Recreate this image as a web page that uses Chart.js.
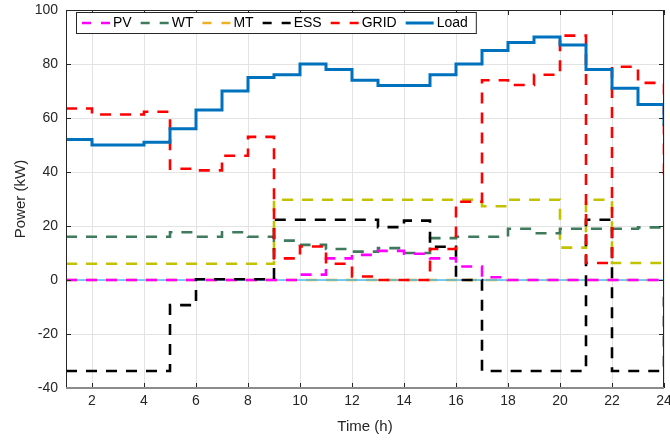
<!DOCTYPE html>
<html>
<head>
<meta charset="utf-8">
<script src="https://cdn.jsdelivr.net/npm/chart.js@4.4.1/dist/chart.umd.min.js"></script>
<style>
  html, body { margin: 0; padding: 0; background: #fff; }
  #wrap { width: 670px; height: 443px; }
</style>
</head>
<body>
<div id="wrap"><canvas id="myChart" width="670" height="443"></canvas></div>
<script>
// hourly values (stairs)
const hours = [1,2,3,4,5,6,7,8,9,10,11,12,13,14,15,16,17,18,19,20,21,22,23,24];
const pv   = [0,0,0,0,0,0,0,0,0,2,8,9.3,10.8,9.7,8,5,1,0,0,0,0,0,0,0];
const wt   = [16,16,16,16,17.7,16,17.7,16,14.6,13,11.5,10.5,11.8,10,15.5,16,16,19,17.3,19,19,19,19.5,19.5];
const mt   = [0,0,0,0,0,0,0,0,0,0,0,0,0,0,0,0,0,0,0,0,0,0,0,0];
const ess  = [-33.7,-33.7,-33.7,-33.7,-9.3,0.3,0.3,0.3,22.3,22.3,22.3,22.3,19.6,22,12.3,0,-33.7,-33.7,-33.7,-33.7,22.3,-33.7,-33.7,-6.2];
const grid = [63.5,61.3,61.3,62.3,41.2,40.6,46,53,8,12.4,6,1.3,0,0,11.5,29,74,72.2,76,90.5,6.3,79,73,36];
const load = [52,50,50,51,56,63,70,75,76,80,78,74,72,72,76,80,85,88,90,87,78,71,65,57];
// lines drawn but not in the legend
const mtOut = [6,6,6,6,6,6,6,6,29.7,29.7,29.7,29.7,29.7,29.7,29.7,29.7,27.3,29.7,29.7,12,29.7,6.3,6.3,6.3];
const zero  = [0,0,0,0,0,0,0,0,0,0,0,0,0,0,0,0,0,0,0,0,0,0,0,0];

const xTicks = [2,4,6,8,10,12,14,16,18,20,22,24];
const yTicks = [-40,-20,0,20,40,60,80,100];

const FONT = '"Liberation Sans", Arial, sans-serif';
const DASH = [11, 9];

function pts(vals) {
  return vals.map((v, i) => ({x: hours[i], y: v}));
}

function line(label, vals, color, dashed, order, extra) {
  return {
    label: label,
    data: pts(vals),
    borderColor: color,
    backgroundColor: color,
    borderWidth: dashed ? 2.6 : 3,
    borderDash: dashed ? DASH : [],
    stepped: true,
    pointRadius: 0,
    fill: false,
    order: order,
    extra: !!extra
  };
}

// box frame + inward ticks like matlab
const frame = {
  id: 'frame',
  afterDatasetsDraw(chart) {
    const {ctx, chartArea: a, scales} = chart;
    ctx.save();
    ctx.strokeStyle = '#262626';
    ctx.lineWidth = 1;
    ctx.strokeRect(a.left + 0.5, a.top + 0.5, a.right - a.left - 1, a.bottom - a.top - 1);
    ctx.beginPath();
    xTicks.forEach(v => {
      const px = Math.round(scales.x.getPixelForValue(v)) + 0.5;
      ctx.moveTo(px, a.bottom); ctx.lineTo(px, a.bottom - 5);
      ctx.moveTo(px, a.top); ctx.lineTo(px, a.top + 5);
    });
    yTicks.forEach(v => {
      const py = Math.round(scales.y.getPixelForValue(v)) + 0.5;
      ctx.moveTo(a.left, py); ctx.lineTo(a.left + 5, py);
      ctx.moveTo(a.right, py); ctx.lineTo(a.right - 5, py);
    });
    ctx.stroke();
    // bottom axis line is a bit greyer and heavier in the original
    ctx.strokeStyle = '#8c8c8c';
    ctx.lineWidth = 2;
    ctx.beginPath();
    ctx.moveTo(a.left, a.bottom); ctx.lineTo(a.right, a.bottom);
    ctx.stroke();
    ctx.restore();
  }
};

// legend drawn inside the plot, top left, in a bordered box
const boxLegend = {
  id: 'boxLegend',
  afterDraw(chart) {
    const ctx = chart.ctx;
    const items = chart.data.datasets.filter(d => !d.extra);
    ctx.save();
    ctx.font = '14px ' + FONT;
    const left = 76, top = 12, h = 21, sample = 28;
    let w = 6;
    items.forEach((d, i) => {
      w += sample + 3 + ctx.measureText(d.label).width + (i < items.length - 1 ? 9 : 8);
    });
    ctx.fillStyle = '#fff';
    ctx.fillRect(left, top, w, h);
    ctx.strokeStyle = '#262626';
    ctx.lineWidth = 1;
    ctx.strokeRect(left + 0.5, top + 0.5, w, h);
    let x = left + 6;
    const cy = top + h / 2 + 0.5;
    items.forEach(d => {
      ctx.beginPath();
      ctx.strokeStyle = d.borderColor;
      ctx.lineWidth = d.borderWidth;
      ctx.setLineDash(d.borderDash.length ? [9, 10] : []);
      ctx.moveTo(x, cy); ctx.lineTo(x + sample, cy);
      ctx.stroke();
      ctx.setLineDash([]);
      ctx.fillStyle = '#000';
      ctx.textBaseline = 'middle';
      ctx.fillText(d.label, x + sample + 3, cy);
      x += sample + 3 + ctx.measureText(d.label).width + 9;
    });
    ctx.restore();
  }
};

const ctx = document.getElementById('myChart');
new Chart(ctx, {
  type: 'line',
  data: {
    datasets: [
      line('PV', pv, '#FF00FF', true, 3),
      line('WT', wt, '#3F7A5C', true, 4),
      line('MT', mt, '#EDB120', true, 7),
      line('ESS', ess, '#000000', true, 2),
      line('GRID', grid, '#FF0000', true, 1),
      line('Load', load, '#0072BD', false, 0),
      line('MTout', mtOut, '#C2C200', true, 5, true),
      Object.assign(line('base', zero, '#4DBEEE', false, 6, true), {borderWidth: 1.5})
    ]
  },
  options: {
    responsive: false,
    animation: false,
    layout: {padding: {top: 10, right: 6, left: 0, bottom: 0}},
    plugins: {
      legend: {display: false},
      tooltip: {enabled: false}
    },
    scales: {
      x: {
        type: 'linear',
        min: 1,
        max: 24,
        afterBuildTicks: s => { s.ticks = xTicks.map(v => ({value: v})); },
        afterFit: s => { s.height = 55; s.paddingLeft = 0; s.paddingRight = 0; },
        grid: {color: '#E3E3E3', drawTicks: false},
        border: {display: false},
        ticks: {color: '#262626', font: {family: FONT, size: 14}, padding: 5, maxRotation: 0, autoSkip: false},
        title: {display: true, text: 'Time (h)', color: '#262626', font: {family: FONT, size: 15}, padding: {top: 0, bottom: 7}}
      },
      y: {
        min: -40,
        max: 100,
        afterBuildTicks: s => { s.ticks = yTicks.map(v => ({value: v})); },
        afterFit: s => { s.width = 66; s.paddingTop = 0; s.paddingBottom = 0; },
        grid: {color: '#E3E3E3', drawTicks: false},
        border: {display: false},
        ticks: {color: '#262626', font: {family: FONT, size: 14}, padding: 8},
        title: {display: true, text: 'Power (kW)', color: '#262626', font: {family: FONT, size: 15}, padding: {top: 12, bottom: 0}}
      }
    }
  },
  plugins: [frame, boxLegend]
});
</script>
</body>
</html>
